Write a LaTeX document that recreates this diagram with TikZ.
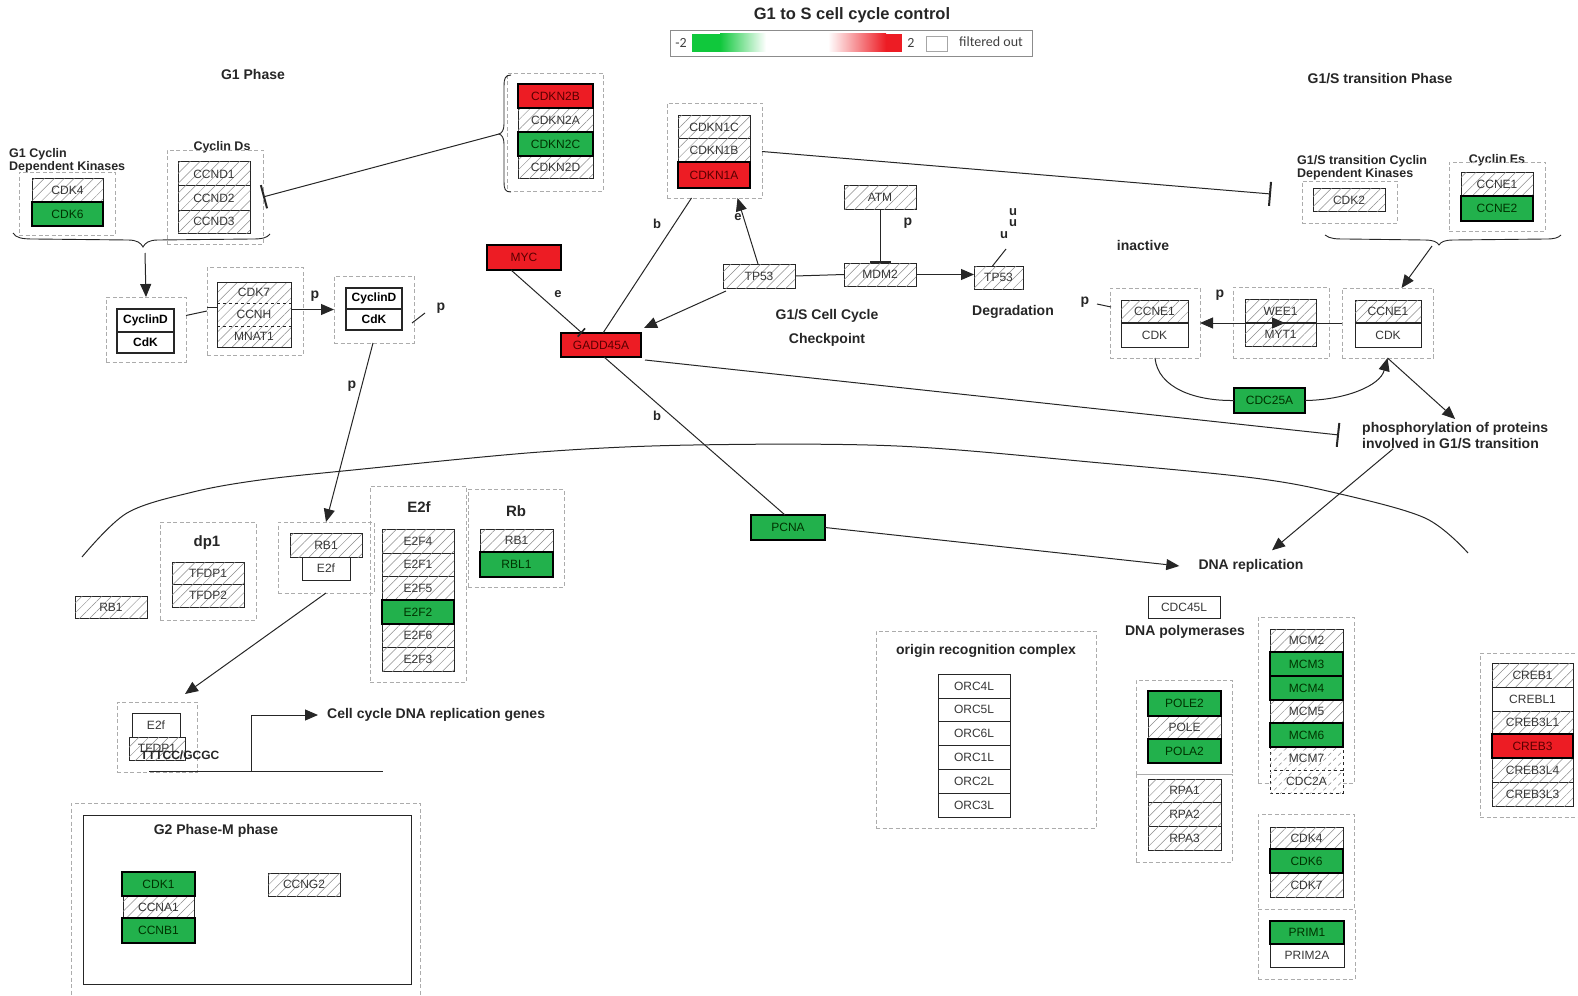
\documentclass[tikz,border=0pt]{standalone}
\usepackage{fontspec}
\setmainfont{Liberation Sans}
\newfontfamily\legfont{Carlito}
\usetikzlibrary{arrows.meta,patterns.meta,calc}
\definecolor{upred}{RGB}{237,28,36}
\definecolor{downgreen}{RGB}{34,177,76}
\definecolor{leggreen}{RGB}{16,200,60}
\definecolor{grpgray}{RGB}{172,172,172}
\definecolor{txtgray}{RGB}{55,55,55}
% gene box given by its corners: name, style, x1, y1, x2, y2, text
\newcommand\gbox[7]{\node[#2,anchor=north west,minimum width={(#5)-(#3)},minimum height={(#6)-(#4)}] (#1) at (#3,#4) {#7};}
\begin{document}
\begin{tikzpicture}[x=1pt,y=-1pt,
  gene/.style={draw=black!85, line width=1pt, font=\fontsize{12}{13}\selectfont, text=txtgray, inner sep=0pt, outer sep=0pt},
  hatch/.style={gene, fill=white, postaction={pattern={Lines[angle=45,distance=7pt,line width=0.5pt]}, pattern color=black!45}},
  plain/.style={gene, fill=white},
  cdbox/.style={gene, fill=white, line width=1.4pt, font=\bfseries\fontsize{12}{13}\selectfont, text=black},
  upreg/.style={gene, fill=upred, draw=black, line width=2.8pt, text=red!35!black},
  downreg/.style={gene, fill=downgreen, draw=black, line width=2.8pt, text=green!20!black},
  grp/.style={draw=grpgray, line width=0.9pt, dash pattern=on 4pt off 2.5pt, inner sep=0pt, outer sep=0pt},
  lbl/.style={font=\bfseries\fontsize{14}{17}\selectfont, text=black!85, inner sep=0pt},
  slbl/.style={font=\bfseries\fontsize{12.5}{12.5}\selectfont, text=black!85, inner sep=0pt},
  link/.style={line width=1pt, draw=black!85},
  arr/.style={link, -{Triangle[length=13pt,width=11pt]}},
  inh/.style={link, -{Bar[width=24pt,line width=2pt]}},
]
\useasboundingbox (0,0) rectangle (1578,995);

% ---------- title and legend ----------
\node[font=\bfseries\fontsize{16.5}{18}\selectfont, text=black!85] (title) at (852,15) {G1 to S cell cycle control};
\node[draw=black!45, line width=0.8pt, anchor=north west, minimum width=362, minimum height=26, inner sep=0pt] (legend) at (670,30) {};
\fill[leggreen] (692,34) rectangle (720,52);
\shade[left color=leggreen, right color=white] (720,34) rectangle (766,52);
\shade[left color=white, right color=upred] (828,34) rectangle (886,52);
\fill[upred] (886,34) rectangle (902,52);
\node[font=\legfont\fontsize{14}{15}\selectfont, text=black!75] (legmin) at (681,43) {-2};
\node[font=\legfont\fontsize{14}{15}\selectfont, text=black!75] (legmax) at (911,43) {2};
\node[draw=black!35, line width=0.6pt, anchor=north west, minimum width=21, minimum height=15, inner sep=0pt] (legfilt) at (926,36) {};
\node[font=\legfont\fontsize{14}{15}\selectfont, text=black!75] (legtext) at (991,42) {filtered out};

% ---------- G1 phase ----------
\node[lbl] (g1phase) at (253,74) {G1 Phase};
\node[slbl, anchor=west, align=left] (g1cdklbl) at (9,161) {G1 Cyclin\\Dependent Kinases};
\gbox{g1cdkgrp}{grp}{19}{172}{115}{235}{}
\gbox{cdk4a}{hatch}{32}{179}{103}{202}{CDK4}
\gbox{cdk6a}{downreg}{32}{202}{103}{226}{CDK6}

\node[slbl] (cycdslbl) at (222,147) {Cyclin Ds};
\gbox{ccndgrp}{grp}{167}{150}{263}{244}{}
\gbox{ccnd1}{hatch}{178}{162}{250}{186}{CCND1}
\gbox{ccnd2}{hatch}{178}{186}{250}{210}{CCND2}
\gbox{ccnd3}{hatch}{178}{210}{250}{233}{CCND3}

% brace gathering the kinases and the cyclins
\draw[link, line width=0.9pt] (13,233) .. controls (16,238) and (22,239) .. (34,239) -- (128,240) .. controls (137,240) and (141,243) .. (143,247) .. controls (145,243) and (149,240) .. (158,240) -- (252,239) .. controls (262,239) and (267,238) .. (270,234);
\coordinate (g1tip) at (145,253);

\gbox{cycd1grp}{grp}{106}{297}{186}{362}{}
\gbox{cycd1}{cdbox}{117}{309}{174}{332}{CyclinD}
\gbox{cdk1a}{cdbox}{117}{332}{174}{353}{CdK}
\draw[arr] (g1tip) -- (cycd1grp.north);

\gbox{cdk7grp}{grp}{207}{267}{303}{355}{}
\gbox{cdk7a}{hatch,draw=none}{217}{282}{291}{303}{CDK7}
\gbox{ccnh}{hatch,draw=none}{217}{303}{291}{326}{CCNH}
\gbox{mnat1}{hatch,draw=none}{217}{326}{291}{347}{MNAT1}
\draw[link] (cdk7a.north west) rectangle (mnat1.south east);
\draw[link, dashed] (cdk7a.south west) -- (cdk7a.south east);
\draw[link, dashed] (ccnh.south west) -- (ccnh.south east);
\draw[link] ([yshift=14]cycd1grp.east) -- ([yshift=0]cdk7grp.west);
\draw[link] ([yshift=4]cdk7grp.west) -- ([yshift=4]cdk7grp.west -| cdk7a.west);

\gbox{cycd2grp}{grp}{334}{276}{414}{343}{}
\gbox{cycd2}{cdbox}{346}{288}{402}{309}{CyclinD}
\gbox{cdk2a}{cdbox}{346}{309}{402}{330}{CdK}
\draw[arr] (ccnh.east |- cycd2grp.west) -- (cycd2grp.west);
\node[lbl] (pa) at (315,296) {p};
\coordinate (ptick1) at (412,323);
\coordinate (ptick2) at (425,313);
\draw[link] (ptick1) -- (ptick2);
\node[lbl] (pb) at (441,308) {p};

% ---------- CDK inhibitors ----------
\gbox{cdkn2grp}{grp}{507}{73}{603}{191}{}
\gbox{cdkn2a}{hatch}{518}{108}{593}{132}{CDKN2A}
\gbox{cdkn2d}{hatch}{518}{156}{593}{179}{CDKN2D}
\gbox{cdkn2b}{upreg}{518}{84}{593}{108}{CDKN2B}
\gbox{cdkn2c}{downreg}{518}{132}{593}{156}{CDKN2C}
\draw[link, line width=0.9pt] (511,75) .. controls (505,75) and (504,79) .. (504,86) -- (504,124) .. controls (504,130) and (502,133) .. (499,134) .. controls (502,135) and (504,138) .. (504,144) -- (504,182) .. controls (504,189) and (505,192) .. (511,192);
\coordinate (cdknbrace) at (499,134);
\draw[inh] (cdknbrace) -- (ccndgrp.east);

\gbox{cdkn1grp}{grp}{667}{103}{762}{198}{}
\gbox{cdkn1c}{hatch}{678}{116}{750}{139}{CDKN1C}
\gbox{cdkn1b}{hatch}{678}{139}{750}{162}{CDKN1B}
\gbox{cdkn1a}{upreg}{678}{162}{750}{188}{CDKN1A}
\coordinate (cdkbar) at (1271,194);
\draw[inh] ([yshift=-1]cdkn1grp.east) -- (cdkbar);

\gbox{myc}{upreg}{487}{245}{561}{270}{MYC}
\gbox{gadd}{upreg}{561}{333}{641}{357}{GADD45A}
\draw[link, -{Bar[width=11pt,line width=1.6pt]}] ([xshift=-13]myc.south) -- ([xshift=-19]gadd.north);
\node[lbl, font=\bfseries\fontsize{13}{14}\selectfont] (le1) at (558,294) {e};
\draw[link] ([xshift=-23]cdkn1grp.south) -- ([xshift=2]gadd.north);
\node[lbl, font=\bfseries\fontsize{13}{14}\selectfont] (lb1) at (657,224) {b};

% ---------- G1/S checkpoint ----------
\gbox{tp53a}{hatch}{723}{264}{795}{288}{TP53}
\gbox{atm}{hatch}{844}{186}{916}{209}{ATM}
\gbox{mdm2}{hatch}{844}{263}{916}{286}{MDM2}
\gbox{tp53b}{hatch}{974}{266}{1023}{289}{TP53}
\draw[arr] ([xshift=-1]tp53a.north) -- ([xshift=23]cdkn1grp.south);
\node[lbl, font=\bfseries\fontsize{13}{14}\selectfont] (le2) at (738,217) {e};
\draw[arr] ([xshift=3,yshift=-3]tp53a.south west) -- ([xshift=3,yshift=5]gadd.north east);
\draw[link] (tp53a.east) -- (mdm2.west);
\draw[link, -{Bar[width=21pt,line width=2.2pt]}] (atm.south) -- (mdm2.north);
\node[lbl] (pc) at (908,223) {p};
\draw[arr] (mdm2.east) -- (mdm2.east -| tp53b.west);
\coordinate (ubase) at (1006,249);
\draw[link] ([xshift=-6]tp53b.north) -- (ubase);
\node[lbl, font=\bfseries\fontsize{13}{14}\selectfont] (u1) at (1004,235) {u};
\node[lbl, font=\bfseries\fontsize{13}{14}\selectfont] (u2) at (1013,223) {u};
\node[lbl, font=\bfseries\fontsize{13}{14}\selectfont] (u3) at (1013,212) {u};
\node[lbl] (degr) at (1013,312) {Degradation};
\node[lbl, align=center, font=\bfseries\fontsize{14}{24}\selectfont] (chk) at (827,328) {G1/S Cell Cycle\\Checkpoint};

% ---------- G1/S transition ----------
\node[lbl] (g1sphase) at (1380,79) {G1/S transition Phase};
\node[slbl, anchor=west, align=left] (g1scdklbl) at (1297,168) {G1/S transition Cyclin\\Dependent Kinases};
\gbox{cdk2grp}{grp}{1302}{181}{1397}{223}{}
\gbox{cdk2}{hatch}{1313}{189}{1385}{211}{CDK2}
\node[slbl] (cycelbl) at (1497,160) {Cyclin Es};
\gbox{cycegrp}{grp}{1449}{162}{1545}{231}{}
\gbox{ccne1a}{hatch}{1461}{173}{1533}{196}{CCNE1}
\gbox{ccne2}{downreg}{1461}{196}{1533}{221}{CCNE2}
\draw[link, line width=0.9pt] (1325,235) .. controls (1330,239) and (1336,239) .. (1346,239) -- (1424,240) .. controls (1434,240) and (1437,242) .. (1439,245) .. controls (1441,242) and (1444,240) .. (1454,240) -- (1546,239) .. controls (1554,239) and (1558,238) .. (1561,235);
\coordinate (g1stip) at (1432,246);

\node[lbl] (inact) at (1143,245) {inactive};
\gbox{inactgrp}{grp}{1110}{288}{1200}{358}{}
\gbox{ccne1b}{hatch}{1121}{300}{1188}{323}{CCNE1}
\gbox{cdkb}{plain}{1121}{323}{1188}{347}{CDK}
\draw[link, line width=2pt] (ccne1b.south west) -- (ccne1b.south east);
\node[lbl] (pd) at (1085,302) {p};
\draw[link] ([xshift=-13,yshift=-16]inactgrp.north west) -- ([xshift=1,yshift=-19]inactgrp.north west);

\gbox{weegrp}{grp}{1233}{287}{1329}{358}{}
\gbox{wee1}{hatch}{1245}{299}{1316}{323}{WEE1}
\gbox{myt1}{hatch}{1245}{323}{1316}{346}{MYT1}
\draw[link, line width=2pt] (wee1.south west) -- (wee1.south east);
\node[lbl] (pe) at (1220,295) {p};

\gbox{actgrp}{grp}{1342}{288}{1433}{358}{}
\gbox{ccne1c}{hatch}{1355}{300}{1421}{323}{CCNE1}
\gbox{cdkc}{plain}{1355}{323}{1421}{347}{CDK}
\draw[link, line width=2pt] (ccne1c.south west) -- (ccne1c.south east);
\draw[arr] (g1stip) -- ([xshift=14]actgrp.north);

\draw[arr] (actgrp.west |- ccne1c.south) -- (inactgrp.east |- ccne1c.south);
\draw[arr] ([xshift=10]wee1.south west) -- ([xshift=40]wee1.south west);

\gbox{cdc25a}{downreg}{1234}{388}{1305}{413}{CDC25A}
\draw[link] (inactgrp.south) .. controls (1158,388) and (1195,401) .. (cdc25a.west);
\draw[arr] (cdc25a.east) .. controls (1345,400) and (1380,386) .. (actgrp.south);

\node[lbl, anchor=north west, align=left, font=\bfseries\fontsize{14}{16}\selectfont] (phos) at (1362,422) {phosphorylation of proteins\\involved in G1/S transition};
\draw[arr] (actgrp.south) -- ([yshift=3]phos.north);

% ---------- GADD45A links ----------
\coordinate (gaddbar) at (1339,435);
\draw[inh] ([xshift=4,yshift=-3]gadd.south east) -- (gaddbar);

% cell membrane arc
\draw[link] plot[smooth, tension=0.55] coordinates {(82,557) (127,513) (193,492) (260,480) (353,470) (540,452) (693,445) (897,446) (1101,463) (1254,478) (1336,493) (1425,518) (1468,553)};

\gbox{pcna}{downreg}{751}{515}{825}{540}{PCNA}
\draw[link] ([xshift=3]gadd.south) -- ([xshift=-3]pcna.north);
\node[lbl, font=\bfseries\fontsize{13}{14}\selectfont] (lb2) at (657,416) {b};
\node[lbl] (dnarep) at (1251,566) {DNA replication};
\draw[arr] (pcna.east) -- ([xshift=-19]dnarep.west);
\draw[arr] ([xshift=-62]phos.south) -- ([xshift=21,yshift=9]dnarep.north);

% ---------- Rb / E2F ----------
\gbox{rb1a}{hatch}{75}{596}{147}{618}{RB1}
\gbox{dp1grp}{grp}{160}{522}{256}{620}{}
\node[lbl, font=\bfseries\fontsize{15}{16}\selectfont] (dp1lbl) at (207,543) {dp1};
\gbox{tfdp1a}{hatch}{172}{562}{244}{584}{TFDP1}
\gbox{tfdp2}{hatch}{172}{584}{244}{607}{TFDP2}

\gbox{rbe2fgrp}{grp}{278}{522}{374}{593}{}
\gbox{rb1b}{hatch}{290}{533}{362}{557}{RB1}
\gbox{e2fa}{plain}{302}{557}{350}{580}{E2f}
\draw[arr] ([xshift=-1]cycd2grp.south) -- (rbe2fgrp.north);
\node[lbl] (pf) at (352,386) {p};

\gbox{e2fgrp}{grp}{370}{486}{466}{682}{}
\node[lbl, font=\bfseries\fontsize{15}{16}\selectfont] (e2flbl) at (419,507) {E2f};
\gbox{e2f4}{hatch}{382}{529}{454}{553}{E2F4}
\gbox{e2f1}{hatch}{382}{553}{454}{576}{E2F1}
\gbox{e2f5}{hatch}{382}{576}{454}{600}{E2F5}
\gbox{e2f6}{hatch}{382}{624}{454}{647}{E2F6}
\gbox{e2f3}{hatch}{382}{647}{454}{671}{E2F3}
\gbox{e2f2}{downreg}{382}{600}{454}{624}{E2F2}

\gbox{rbgrp}{grp}{468}{489}{564}{587}{}
\node[lbl, font=\bfseries\fontsize{15}{16}\selectfont] (rblbl) at (516,511) {Rb};
\gbox{rb1c}{hatch}{480}{529}{553}{552}{RB1}
\gbox{rbl1}{downreg}{480}{552}{553}{577}{RBL1}

\gbox{btmgrp}{grp}{117}{702}{197}{772}{}
\gbox{e2fb}{plain}{132}{713}{180}{737}{E2f}
\gbox{tfdp1b}{hatch}{129}{737}{185}{760}{TFDP1}
\node[slbl, font=\bfseries\fontsize{12}{13}\selectfont] (motif) at (180,755) {TTTCC/GCGC};
\draw[arr] (rbe2fgrp.south) -- ([xshift=28,yshift=8]btmgrp.north);

\coordinate (promL) at (149,771);
\coordinate (promR) at (383,771);
\coordinate (prom) at (251,771);
\draw[link] (promL) -- (promR);
\node[lbl, anchor=west] (cellgenes) at (327,715) {Cell cycle DNA replication genes};
\draw[arr] (prom) |- ([xshift=-9]cellgenes.west);

% ---------- G2/M ----------
\gbox{g2outer}{grp}{71}{803}{420}{1003}{}
\node[draw=black!85, line width=1.2pt, anchor=north west, minimum width=328, minimum height=169, inner sep=0pt] (g2box) at (83,815) {};
\node[lbl] (g2lbl) at (216,831) {G2 Phase-M phase};
\gbox{ccna1}{hatch}{123}{896}{194}{918}{CCNA1}
\gbox{cdk1}{downreg}{122}{872}{195}{896}{CDK1}
\gbox{ccnb1}{downreg}{122}{918}{195}{943}{CCNB1}
\gbox{ccng2}{hatch}{268}{873}{340}{896}{CCNG2}

% ---------- replication machinery ----------
\gbox{orcgrp}{grp}{876}{631}{1096}{828}{}
\node[lbl] (orclbl) at (986,651) {origin recognition complex};
\gbox{orc4}{plain}{938}{674}{1010}{698}{ORC4L}
\gbox{orc5}{plain}{938}{698}{1010}{721}{ORC5L}
\gbox{orc6}{plain}{938}{721}{1010}{745}{ORC6L}
\gbox{orc1}{plain}{938}{745}{1010}{769}{ORC1L}
\gbox{orc2}{plain}{938}{769}{1010}{793}{ORC2L}
\gbox{orc3}{plain}{938}{793}{1010}{817}{ORC3L}

\gbox{cdc45}{plain}{1148}{596}{1220}{618}{CDC45L}
\node[lbl] (dnapol) at (1185,632) {DNA polymerases};
\gbox{polgrp}{grp}{1136}{680}{1232}{774}{}
\gbox{rpagrp}{grp}{1136}{774}{1232}{862}{}
\gbox{pole}{hatch}{1148}{716}{1221}{739}{POLE}
\gbox{pole2}{downreg}{1148}{691}{1221}{716}{POLE2}
\gbox{pola2}{downreg}{1148}{739}{1221}{763}{POLA2}
\gbox{rpa1}{hatch}{1148}{779}{1221}{802}{RPA1}
\gbox{rpa2}{hatch}{1148}{802}{1221}{826}{RPA2}
\gbox{rpa3}{hatch}{1148}{826}{1221}{850}{RPA3}

\gbox{mcmgrp}{grp}{1258}{617}{1354}{783}{}
\gbox{mcm2}{hatch}{1270}{629}{1343}{652}{MCM2}
\gbox{mcm5}{hatch}{1270}{700}{1343}{723}{MCM5}
\gbox{mcm7}{hatch,dashed}{1270}{747}{1343}{770}{MCM7}
\gbox{cdc2a}{hatch,dashed}{1270}{770}{1343}{793}{CDC2A}
\gbox{mcm3}{downreg}{1270}{652}{1343}{676}{MCM3}
\gbox{mcm4}{downreg}{1270}{676}{1343}{700}{MCM4}
\gbox{mcm6}{downreg}{1270}{723}{1343}{747}{MCM6}

\gbox{cdkgrp}{grp}{1258}{814}{1354}{909}{}
\gbox{cdk4b}{hatch}{1270}{827}{1343}{849}{CDK4}
\gbox{cdk7b}{hatch}{1270}{873}{1343}{897}{CDK7}
\gbox{cdk6b}{downreg}{1270}{849}{1343}{873}{CDK6}

\gbox{primgrp}{grp}{1258}{909}{1355}{979}{}
\gbox{prim2a}{plain}{1270}{944}{1344}{967}{PRIM2A}
\gbox{prim1}{downreg}{1270}{921}{1344}{944}{PRIM1}

\gbox{crebgrp}{grp}{1480}{653}{1595}{817}{}
\gbox{creb1}{hatch}{1492}{663}{1573}{687}{CREB1}
\gbox{crebl1}{plain}{1492}{687}{1573}{711}{CREBL1}
\gbox{creb3l1}{hatch}{1492}{711}{1573}{734}{CREB3L1}
\gbox{creb3l4}{hatch}{1492}{758}{1573}{782}{CREB3L4}
\gbox{creb3l3}{hatch}{1492}{782}{1573}{806}{CREB3L3}
\gbox{creb3}{upreg}{1492}{734}{1573}{758}{CREB3}
\end{tikzpicture}
\end{document}
